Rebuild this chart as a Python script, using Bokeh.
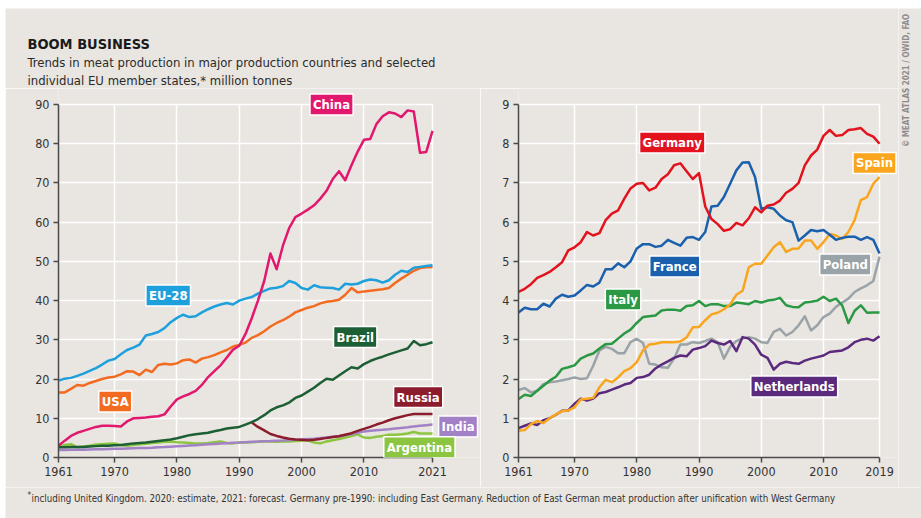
from bokeh.plotting import figure
from bokeh.models import Label, FixedTicker, Spacer
from bokeh.layouts import row, column
from bokeh.embed import file_html
from bokeh.resources import INLINE

BG = "#e9e5e1"
FONT = "'Liberation Sans Narrow', 'DejaVu Sans Condensed', 'Roboto', sans-serif"
AX = "#4a4a4a"

# ---------------- data: left chart (million tonnes) ----------------
years_world = list(range(1961, 2022))
years_russia = list(range(1992, 2022))
world_ticks = [1961, 1970, 1980, 1990, 2000, 2010, 2021]
world_yticks = [0, 10, 20, 30, 40, 50, 60, 70, 80, 90]

china = [3.0, 4.3, 5.5, 6.3, 6.8, 7.3, 7.8, 8.1, 8.1,
         8.0, 7.9, 9.2, 10.0, 10.1, 10.2, 10.4, 10.5, 11.0, 13.0,
         14.8, 15.6, 16.2, 17.0, 18.5, 20.5, 22.0, 23.5, 25.5, 27.5,
         28.5, 31.5, 35.5, 40.0, 45.0, 52.0, 48.0, 54.0, 58.5, 61.3,
         62.2, 63.2, 64.3, 66.0, 68.0, 71.0, 73.0, 70.7, 74.5, 78.0,
         81.0, 81.2, 85.0, 87.0, 88.0, 87.7, 86.8, 88.5, 88.2, 77.7, 77.9, 83.3]
eu28 = [19.6, 20.1, 20.3, 20.8, 21.4, 22.1, 22.8, 23.7, 24.7,
        25.1, 26.3, 27.4, 28.0, 28.8, 31.1, 31.5, 32.0, 33.0, 34.5,
        35.6, 36.4, 35.8, 36.0, 37.0, 37.8, 38.5, 39.0, 39.4, 39.0,
        40.0, 40.5, 40.9, 41.8, 42.5, 43.1, 43.3, 43.7, 45.0, 44.5,
        43.2, 42.8, 43.9, 43.4, 43.3, 43.2, 42.8, 44.3, 44.1, 44.3,
        45.0, 45.4, 45.2, 44.6, 45.2, 46.6, 47.6, 47.3, 48.4, 48.6, 48.8, 49.0]
usa = [16.6, 16.6, 17.5, 18.5, 18.3, 19.0, 19.5, 20.0, 20.4,
       20.6, 21.2, 22.0, 21.9, 21.0, 22.4, 21.8, 23.6, 23.9, 23.7,
       24.0, 24.8, 25.0, 24.2, 25.2, 25.6, 26.1, 26.8, 27.4, 28.3,
       28.7, 29.3, 30.5, 31.2, 32.2, 33.4, 34.3, 35.0, 35.9, 37.0,
       37.6, 38.2, 38.6, 39.3, 39.7, 39.9, 40.2, 41.5, 43.2, 42.1,
       42.3, 42.5, 42.7, 42.9, 43.2, 44.5, 45.6, 46.6, 47.6, 48.3, 48.5, 48.6]
brazil = [2.6, 2.6, 2.7, 2.7, 2.7, 2.8, 2.9, 3.0, 3.0,
          3.1, 3.2, 3.4, 3.6, 3.7, 3.8, 4.0, 4.2, 4.4, 4.6,
          4.9, 5.3, 5.7, 5.9, 6.1, 6.3, 6.7, 7.0, 7.4, 7.6,
          7.8, 8.4, 9.0, 9.8, 10.8, 12.0, 12.8, 13.3, 14.0, 15.2,
          15.8, 16.8, 17.8, 19.0, 20.1, 19.8, 20.9, 22.0, 23.0, 22.7,
          23.8, 24.6, 25.2, 25.7, 26.3, 26.8, 27.3, 27.8, 29.7, 28.6, 28.9, 29.4]
russia = [8.9, 7.8, 6.9, 6.0, 5.5, 5.1, 4.8, 4.6, 4.5, 4.4,
          4.5, 4.7, 5.0, 5.2, 5.4, 5.8, 6.2, 6.8, 7.3, 7.8,
          8.4, 8.9, 9.5, 10.0, 10.4, 10.8, 11.1, 11.1, 11.1, 11.1]
india = [1.9, 1.9, 1.95, 2.0, 2.0, 2.05, 2.1, 2.1, 2.15,
         2.2, 2.25, 2.3, 2.35, 2.4, 2.45, 2.5, 2.6, 2.65, 2.75,
         2.85, 2.95, 3.05, 3.15, 3.25, 3.35, 3.45, 3.55, 3.65, 3.75,
         3.8, 3.9, 4.0, 4.05, 4.15, 4.2, 4.3, 4.35, 4.45, 4.5,
         4.6, 4.7, 4.8, 4.95, 5.1, 5.3, 5.5, 5.75, 6.0, 6.3,
         6.6, 6.8, 6.95, 7.05, 7.2, 7.4, 7.55, 7.7, 7.9, 8.1, 8.25, 8.4]
argentina = [2.6, 3.2, 3.4, 2.6, 2.8, 3.0, 3.3, 3.4, 3.5,
             3.6, 3.2, 3.0, 3.2, 3.4, 3.5, 3.7, 3.8, 4.0, 4.1,
             3.9, 3.8, 3.7, 3.6, 3.6, 3.7, 3.9, 4.1, 3.7, 3.6,
             3.8, 3.8, 3.9, 4.0, 4.1, 4.1, 4.0, 4.1, 4.1, 4.2,
             4.3, 4.4, 3.8, 3.6, 4.1, 4.4, 4.7, 5.1, 5.5, 5.9,
             5.1, 5.0, 5.3, 5.5, 5.8, 5.8, 5.9, 6.1, 6.5, 6.1, 6.1, 6.1]

# ---------------- data: right chart (million tonnes) ----------------
years_eu = list(range(1961, 2020))
eu_ticks = [1961, 1970, 1980, 1990, 2000, 2010, 2019]
eu_yticks = [0, 1, 2, 3, 4, 5, 6, 7, 8, 9]

germany = [4.22, 4.3, 4.42, 4.58, 4.65, 4.73, 4.85, 4.98, 5.28,
           5.36, 5.49, 5.75, 5.66, 5.72, 6.05, 6.22, 6.3, 6.6, 6.86,
           6.98, 7.0, 6.81, 6.88, 7.1, 7.22, 7.45, 7.5, 7.3, 7.1,
           7.25, 6.4, 6.08, 5.95, 5.78, 5.82, 5.98, 5.92, 6.1, 6.38,
           6.25, 6.42, 6.45, 6.55, 6.75, 6.85, 7.0, 7.45, 7.7, 7.85,
           8.2, 8.35, 8.2, 8.22, 8.35, 8.37, 8.4, 8.25, 8.18, 8.0]
france = [3.7, 3.82, 3.78, 3.78, 3.92, 3.85, 4.05, 4.15, 4.1,
          4.13, 4.26, 4.4, 4.36, 4.46, 4.8, 4.8, 4.95, 4.85, 5.0,
          5.33, 5.44, 5.44, 5.37, 5.4, 5.55, 5.47, 5.4, 5.6, 5.62,
          5.55, 5.75, 6.4, 6.42, 6.64, 6.98, 7.32, 7.52, 7.53, 7.15,
          6.34, 6.38, 6.34, 6.17, 6.05, 6.0, 5.53, 5.66, 5.8, 5.77,
          5.8, 5.68, 5.55, 5.6, 5.63, 5.63, 5.55, 5.62, 5.55, 5.2]
spain = [0.68, 0.7, 0.85, 0.93, 0.88, 1.0, 1.1, 1.18, 1.2,
         1.28, 1.48, 1.5, 1.52, 1.79, 1.98, 1.92, 2.04, 2.2, 2.28,
         2.43, 2.73, 2.88, 2.9, 2.94, 2.94, 2.94, 2.96, 3.06, 3.32,
         3.33, 3.5, 3.65, 3.69, 3.78, 3.9, 4.15, 4.25, 4.85, 4.94,
         4.94, 5.15, 5.36, 5.49, 5.24, 5.32, 5.33, 5.53, 5.53, 5.32,
         5.49, 5.7, 5.66, 5.57, 5.75, 6.05, 6.56, 6.64, 6.98, 7.15]
italy = [1.49, 1.6, 1.57, 1.7, 1.83, 1.96, 2.06, 2.26, 2.3,
         2.35, 2.52, 2.6, 2.65, 2.78, 2.89, 2.9, 3.03, 3.16, 3.26,
         3.43, 3.58, 3.6, 3.62, 3.75, 3.77, 3.77, 3.74, 3.86, 3.88,
         3.99, 3.86, 3.91, 3.91, 3.86, 3.86, 3.95, 3.93, 3.91, 3.99,
         3.95, 4.0, 4.02, 4.07, 3.88, 3.84, 3.83, 3.95, 3.97, 4.0,
         4.1, 3.99, 4.05, 3.88, 3.43, 3.74, 3.88, 3.69, 3.7, 3.7]
poland = [1.72, 1.77, 1.66, 1.7, 1.87, 1.92, 1.94, 1.97, 2.0,
          2.04, 2.0, 2.02, 2.34, 2.73, 2.82, 2.77, 2.66, 2.66, 2.94,
          3.03, 2.92, 2.39, 2.37, 2.3, 2.29, 2.52, 2.88, 2.88, 2.94,
          2.92, 2.97, 3.03, 2.94, 2.52, 2.82, 2.97, 3.03, 3.07, 3.03,
          2.94, 2.92, 3.2, 3.28, 3.11, 3.2, 3.37, 3.6, 3.24, 3.37,
          3.58, 3.67, 3.84, 3.95, 4.05, 4.22, 4.31, 4.39, 4.5, 5.12]
netherlands = [0.75, 0.81, 0.87, 0.83, 0.95, 1.0, 1.09, 1.19, 1.2,
               1.37, 1.5, 1.45, 1.5, 1.64, 1.67, 1.73, 1.79, 1.86, 1.9,
               2.03, 2.05, 2.11, 2.27, 2.37, 2.45, 2.54, 2.6, 2.58, 2.75,
               2.79, 2.84, 2.98, 2.92, 2.88, 2.97, 2.71, 3.07, 3.03, 2.88,
               2.62, 2.54, 2.24, 2.39, 2.44, 2.41, 2.39, 2.47, 2.52, 2.56,
               2.6, 2.69, 2.71, 2.73, 2.81, 2.94, 3.0, 3.03, 2.98, 3.09]

C = {
    "China": "#e2176e", "EU-28": "#1ea0dc", "USA": "#f26b21", "Brazil": "#1d5f34",
    "Russia": "#8c1c2c", "India": "#a281c6", "Argentina": "#8cc640",
    "Germany": "#e3131d", "France": "#1a60ad", "Spain": "#f9a61e",
    "Italy": "#2b9944", "Poland": "#99a3a8", "Netherlands": "#5b2a7d",
}


def make_fig(width, x_last, x_end, y_last, y_end, ticks_x, ticks_y, mb_left):
    # the frame is a little larger than the data area so that labels are not clipped;
    # axes and grid lines are bounded to the data area
    p = figure(width=width, height=399, x_range=(1961, x_end), y_range=(0, y_end),
               output_backend="svg", toolbar_location=None,
               min_border_left=mb_left, min_border_right=0,
               min_border_top=0, min_border_bottom=30,
               background_fill_color=BG, border_fill_color=BG, outline_line_color=None)
    p.xaxis.ticker = FixedTicker(ticks=ticks_x)
    p.yaxis.ticker = FixedTicker(ticks=ticks_y)
    p.xaxis.bounds = (1961, x_last)
    p.yaxis.bounds = (0, y_last)
    p.xgrid.ticker = FixedTicker(ticks=ticks_x)
    p.ygrid.ticker = FixedTicker(ticks=ticks_y)
    p.xgrid.bounds = (1961, x_last)
    p.ygrid.bounds = (0, y_last)
    p.xgrid.cross_bounds = (0, y_last)
    p.ygrid.cross_bounds = (1961, x_last)
    p.grid.grid_line_color = "white"
    p.grid.grid_line_width = 1.5
    for ax in (p.xaxis, p.yaxis):
        ax.axis_line_color = AX
        ax.axis_line_width = 1.5
        ax.major_tick_line_color = AX
        ax.major_tick_line_width = 1.5
        ax.major_tick_out = 5
        ax.major_tick_in = 0
        ax.minor_tick_line_color = None
        ax.major_label_text_font = FONT
        ax.major_label_text_font_size = "12.5px"
        ax.major_label_text_color = "#333333"
        ax.major_label_standoff = 4
    return p


def tag(p, x, y, text, color):
    p.add_layout(Label(x=x, y=y, text=text, text_align="center", text_baseline="middle",
                       text_color="white", text_font=FONT, text_font_style="bold",
                       text_font_size="13px", background_fill_color=color,
                       border_line_color="white", border_line_width=1.5, padding=3))


def blank(width, height):
    f = figure(width=width, height=height, x_range=(0, width), y_range=(height, 0),
               output_backend="svg", toolbar_location=None, min_border=0,
               x_axis_location=None, y_axis_location=None,
               background_fill_color=BG, border_fill_color=BG, outline_line_color=None)
    f.grid.visible = False
    return f


# ---------------- left chart ----------------
p1 = make_fig(475, 2021, 2028.7, 90, 94.08, world_ticks, world_yticks, 53)
for name, ys, xs in [("Argentina", argentina, years_world), ("India", india, years_world),
                     ("Russia", russia, years_russia), ("Brazil", brazil, years_world),
                     ("USA", usa, years_world), ("EU-28", eu28, years_world),
                     ("China", china, years_world)]:
    p1.line(xs, ys, line_color=C[name], line_width=2.5, line_join="round")

tag(p1, 2004.8, 90.0, "China", C["China"])
tag(p1, 1978.6, 41.3, "EU-28", C["EU-28"])
tag(p1, 1970.1, 14.3, "USA", C["USA"])
tag(p1, 2008.6, 30.7, "Brazil", C["Brazil"])
tag(p1, 2018.7, 15.4, "Russia", C["Russia"])
tag(p1, 2025.1, 7.9, "India", C["India"])
tag(p1, 2018.9, 2.6, "Argentina", C["Argentina"])

# ---------------- right chart ----------------
p2 = make_fig(418, 2019, 2022.05, 9, 9.408, eu_ticks, eu_yticks, 38)
for name, ys in [("Poland", poland), ("Netherlands", netherlands), ("Italy", italy),
                 ("Spain", spain), ("France", france), ("Germany", germany)]:
    p2.line(years_eu, ys, line_color=C[name], line_width=2.5, line_join="round")

tag(p2, 1985.7, 8.03, "Germany", C["Germany"])
tag(p2, 1986.1, 4.87, "France", C["France"])
tag(p2, 2018.2, 7.51, "Spain", C["Spain"])
tag(p2, 2013.5, 4.92, "Poland", C["Poland"])
tag(p2, 1977.8, 4.03, "Italy", C["Italy"])
tag(p2, 2005.3, 1.81, "Netherlands", C["Netherlands"])

# ---------------- heading ----------------
head = blank(893, 80)
head.add_layout(Label(x=22, y=35, text="BOOM BUSINESS", text_font=FONT,
                      text_font_style="bold", text_font_size="14.5px",
                      text_color="#1a1a1a", text_baseline="alphabetic"))
head.add_layout(Label(x=22, y=54,
                      text="Trends in meat production in major production countries and selected",
                      text_font=FONT, text_font_size="13px", text_color="#2b2b2b",
                      text_baseline="alphabetic"))
head.add_layout(Label(x=22, y=72, text="individual EU member states,* million tonnes",
                      text_font=FONT, text_font_size="13px", text_color="#2b2b2b",
                      text_baseline="alphabetic"))

# ---------------- credit strip ----------------
credit = blank(23, 479)
credit.add_layout(Label(x=8, y=72, angle=1.5708, text="© MEAT ATLAS 2021 / OWID, FAO",
                        text_font=FONT, text_font_style="bold", text_font_size="8px",
                        text_color="#8c8c8c", text_align="center", text_baseline="middle"))

# ---------------- footnote strip ----------------
foot = blank(916, 31)
foot.add_layout(Label(x=22, y=8, text="*", text_font=FONT, text_font_size="8px",
                      text_color="#333333", text_baseline="alphabetic"))
foot.add_layout(Label(x=26, y=11,
                      text="including United Kingdom. 2020: estimate, 2021: forecast. Germany pre-1990: "
                           "including East Germany. Reduction of East German meat production after "
                           "unification with West Germany",
                      text_font=FONT, text_font_size="9.7px", text_color="#333333",
                      text_baseline="alphabetic"))

content = column(row(column(head, row(p1, p2)), credit), foot)
layout = column(Spacer(height=8), row(Spacer(width=5), content))
open("out.html", "w").write(file_html(layout, INLINE))
